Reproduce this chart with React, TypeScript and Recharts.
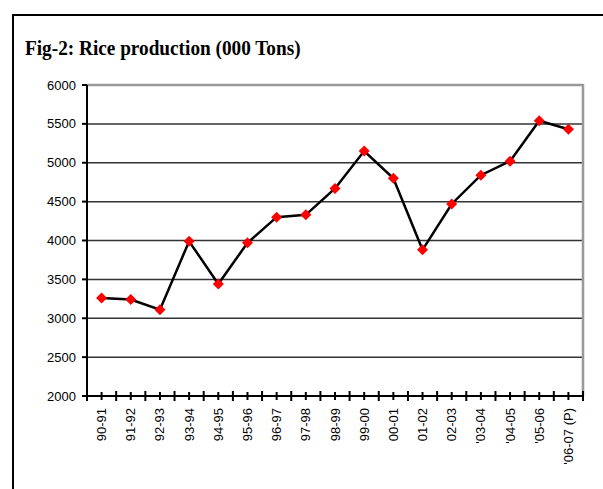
import React from "react";
import {
  ComposedChart, Line, XAxis, YAxis, CartesianGrid, ReferenceLine,
} from "recharts";

const W = 603;
const H = 489;
const MARGIN = { top: 85, right: 20, bottom: 23, left: 47 };
const Y_AXIS_W = 40;
const X_AXIS_H = 70;

const years = [
  "90-91", "91-92", "92-93", "93-94", "94-95", "95-96", "96-97", "97-98", "98-99",
  "99-00", "00-01", "01-02", "02-03", "'03-04", "'04-05", "'05-06", "'06-07 (P)",
];
const production = [
  3260, 3240, 3110, 3990, 3440, 3970, 4300, 4330, 4670,
  5150, 4800, 3880, 4470, 4840, 5020, 5540, 5430,
];
const yTicks = [2000, 2500, 3000, 3500, 4000, 4500, 5000, 5500, 6000];

const data = years.map((year, i) => ({ year, value: production[i] }));

// size of one category band and of the plot, needed for boundary ticks and the right border
const BAND = (W - MARGIN.left - Y_AXIS_W - MARGIN.right) / years.length;
const PLOT_H = H - MARGIN.top - MARGIN.bottom - X_AXIS_H;

const LABEL_FONT = "'Liberation Sans', Arial, sans-serif";

const Diamond = (props: any) => {
  const { cx, cy } = props;
  if (cx == null || cy == null) return null;
  const r = 5.5;
  return (
    <polygon
      points={`${cx},${cy - r} ${cx + r},${cy} ${cx},${cy + r} ${cx - r},${cy}`}
      fill="#ff0000"
    />
  );
};

const XTick = (props: any) => {
  const { x, y, payload, index } = props;
  const half = BAND / 2;
  const last = index === years.length - 1;
  return (
    <g>
      {last && (
        <line x1={x + half} x2={x + half} y1={y} y2={y - PLOT_H - 1} stroke="#999" strokeWidth={2.5} />
      )}
      <line x1={x} x2={x} y1={y - 4} y2={y + 4} stroke="#000" strokeWidth={2} />
      <line x1={x - half} x2={x - half} y1={y - 5} y2={y + 5} stroke="#000" strokeWidth={2} />
      {last && (
        <line x1={x + half} x2={x + half} y1={y - 5} y2={y + 5} stroke="#000" strokeWidth={2} />
      )}
      <text
        transform={`translate(${x + 4.5},${y + 12}) rotate(-90)`}
        textAnchor="end"
        fontSize={13}
        fontFamily={LABEL_FONT}
        fill="#000"
      >
        {payload.value}
      </text>
    </g>
  );
};

export default function App() {
  return (
    <div style={{ position: "fixed", left: 0, top: 0, width: W, height: H, background: "#fff", overflow: "hidden" }}>
      <div
        style={{
          position: "absolute", left: 12, top: 14, width: W, height: H,
          borderLeft: "2px solid #000", borderTop: "2px solid #000",
        }}
      />
      <div
        style={{
          position: "absolute", left: 25, top: 36.5, fontFamily: "'Liberation Serif', 'Times New Roman', serif",
          fontWeight: "bold", fontSize: 22, lineHeight: 1, whiteSpace: "nowrap",
          transform: "scaleX(0.875)", transformOrigin: "0 0",
        }}
      >
        Fig-2: Rice production (000 Tons)
      </div>
      <div style={{ position: "absolute", left: 0, top: 0 }}>
        <ComposedChart width={W} height={H} data={data} margin={MARGIN}>
          <CartesianGrid vertical={false} stroke="#333" strokeWidth={1.5} />
          {/* grey plot-area border on the top side */}
          <ReferenceLine y={6000} stroke="#999" strokeWidth={2.5} />
          <XAxis
            dataKey="year"
            scale="band"
            interval={0}
            height={X_AXIS_H}
            tickSize={0}
            tickMargin={0}
            tickLine={false}
            axisLine={{ stroke: "#000", strokeWidth: 2 }}
            tick={<XTick />}
          />
          <YAxis
            width={Y_AXIS_W}
            domain={[2000, 6000]}
            ticks={yTicks}
            interval={0}
            tickSize={5}
            tickMargin={6}
            tickLine={{ stroke: "#000", strokeWidth: 2 }}
            axisLine={{ stroke: "#000", strokeWidth: 2 }}
            tick={{ fill: "#000", fontSize: 13, fontFamily: LABEL_FONT }}
          />
          <Line
            dataKey="value"
            stroke="#000"
            strokeWidth={2.5}
            dot={<Diamond />}
            activeDot={false}
            isAnimationActive={false}
          />
        </ComposedChart>
      </div>
    </div>
  );
}
